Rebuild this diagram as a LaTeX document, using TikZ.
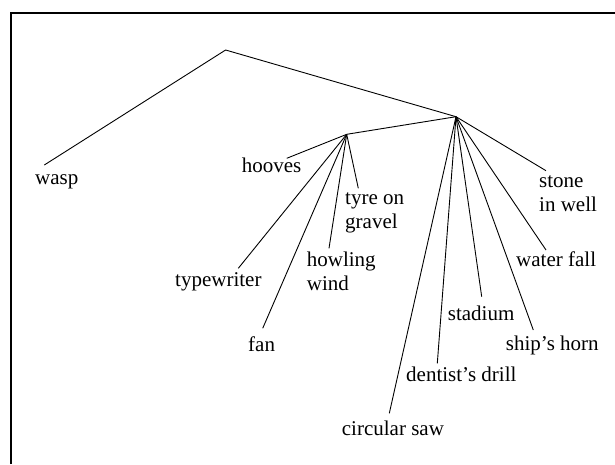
\documentclass[tikz,border=0pt]{standalone}
\usepackage{fontspec}
\setmainfont{Liberation Serif}
\begin{document}
\begin{tikzpicture}[x=1pt,y=-1pt,
  lbl/.style={anchor=base west,inner sep=0pt,font=\fontsize{21}{24}\selectfont,align=left},
  edge/.style={line width=0.9pt},
  frame/.style={line width=2pt}]
\useasboundingbox (0,0) rectangle (615,464);
\draw[frame] (11,464) -- (11,13) -- (615,13);
% hubs
\coordinate (root) at (225.6,50);
\coordinate (B) at (456,116.7);
\coordinate (A) at (346.7,134.3);
% labels (multi-line labels are placed by their last baseline)
\node[lbl] (wasp) at (35,184) {wasp};
\node[lbl] (hooves) at (241.7,172.7) {hooves};
\node[lbl] (tyre) at (345,228) {tyre on\\gravel};
\node[lbl] (howl) at (306.7,290) {howling\\wind};
\node[lbl] (type) at (175,286.7) {typewriter};
\node[lbl] (fan) at (248,351.7) {fan};
\node[lbl] (stone) at (539,211.7) {stone\\in well};
\node[lbl] (water) at (516,266.7) {water fall};
\node[lbl] (stad) at (447.7,320.7) {stadium};
\node[lbl] (ship) at (505.7,350) {ship’s horn};
\node[lbl] (drill) at (406,381.7) {dentist’s drill};
\node[lbl] (saw) at (341.7,435) {circular saw};
% leaf ends
\coordinate (ewasp) at (44.3,165);
\coordinate (ehoov) at (286.7,158.3);
\coordinate (etyre) at (358.3,188.3);
\coordinate (ehowl) at (329,248.3);
\coordinate (etype) at (238.3,268.3);
\coordinate (efan) at (262.7,328.3);
\coordinate (estone) at (546,170.7);
\coordinate (ewater) at (546,250);
\coordinate (estad) at (481.7,296.7);
\coordinate (eship) at (533.3,330);
\coordinate (edrill) at (437.3,363.3);
\coordinate (esaw) at (389.3,413.3);
% edges
\draw[edge] (ewasp) -- (root) -- (B);
\draw[edge] (B) -- (A);
\foreach \e in {ehoov,etyre,ehowl,etype,efan} \draw[edge] (A) -- (\e);
\foreach \e in {estone,ewater,estad,eship,edrill,esaw} \draw[edge] (B) -- (\e);
\end{tikzpicture}
\end{document}
